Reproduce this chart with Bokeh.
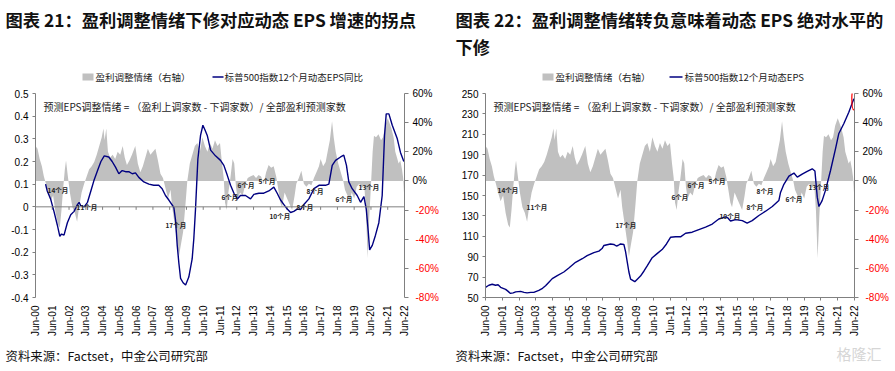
from math import pi
from bokeh.plotting import figure
from bokeh.models import (Range1d, LinearAxis, FixedTicker, Label, ColumnDataSource, Span)
from bokeh.layouts import row, column
from bokeh.embed import file_html
from bokeh.resources import INLINE
from bokeh.core.properties import value

# ---------------- data ----------------
# earnings revision sentiment (%; right axis), shared by both panels
sent_t = [2000.50, 2000.62, 2000.75, 2000.88, 2001.00, 2001.12, 2001.25, 2001.40, 2001.55, 2001.70,
          2001.85, 2001.95, 2002.05, 2002.15, 2002.25, 2002.32, 2002.42, 2002.55, 2002.70, 2002.85,
          2002.98, 2003.10, 2003.25, 2003.40, 2003.55, 2003.70, 2003.85, 2004.00, 2004.15, 2004.30,
          2004.45, 2004.55, 2004.62, 2004.72, 2004.82, 2004.95, 2005.10, 2005.25, 2005.40, 2005.55,
          2005.70, 2005.82, 2005.95, 2006.10, 2006.25, 2006.45, 2006.60, 2006.75, 2006.90, 2007.05,
          2007.20, 2007.35, 2007.50, 2007.65, 2007.80, 2007.95, 2008.10, 2008.25, 2008.40, 2008.55,
          2008.65, 2008.80, 2008.95, 2009.05, 2009.15, 2009.30, 2009.45, 2009.55, 2009.70, 2009.85,
          2010.00, 2010.15, 2010.30, 2010.45, 2010.60, 2010.75, 2010.90, 2011.05, 2011.20, 2011.35,
          2011.50, 2011.62, 2011.72, 2011.80, 2011.90, 2012.00, 2012.12, 2012.25, 2012.35, 2012.45,
          2012.55, 2012.70, 2012.85, 2013.00, 2013.15, 2013.30, 2013.50, 2013.65, 2013.80, 2013.95,
          2014.10, 2014.25, 2014.40, 2014.55, 2014.70, 2014.85, 2014.95, 2015.10, 2015.20, 2015.35,
          2015.50, 2015.65, 2015.80, 2015.95, 2016.05, 2016.20, 2016.35, 2016.50, 2016.65, 2016.80,
          2016.95, 2017.10, 2017.25, 2017.40, 2017.50, 2017.65, 2017.80, 2017.95, 2018.05, 2018.18,
          2018.28, 2018.40, 2018.55, 2018.70, 2018.85, 2018.95, 2019.10, 2019.22, 2019.35, 2019.50,
          2019.65, 2019.80, 2019.95, 2020.10, 2020.20, 2020.30, 2020.40, 2020.50, 2020.60, 2020.68,
          2020.80, 2020.95, 2021.10, 2021.22, 2021.35, 2021.50, 2021.60, 2021.72, 2021.85, 2021.95,
          2022.05, 2022.15, 2022.25, 2022.35, 2022.42, 2022.48]
sent_v = [24, 22, 15, 10, 3, -2, -8, -14, -10, -22,
          -30, -32, -20, -5, 8, 14, 4, -8, -18, -22,
          -28, -18, -8, -2, 3, 8, 10, 13, 18, 24,
          30, 36, 28, 36, 20, 16, 18, 15, 20, 18,
          24, 16, 11, 14, 18, 24, 12, 6, 10, 16,
          22, 18, 20, 22, 14, 5, 2, -5, -12, -6,
          -18, -30, -42, -52, -45, -35, -15, 0, 12, 18,
          24, 26, 20, 30, 24, 20, 26, 22, 28, 24,
          26, 12, 2, -15, -20, -8, 2, 15, 12, -4,
          -12, -8, -10, -3, 2, 3, 4, 2, 4, 3,
          -2, 6, 11, 9, 10, 3, -4, -15, -18, -8,
          -12, -16, -20, -10, -2, 2, 7, -2, -4, -2,
          -3, 2, 6, 10, 15, 10, 13, 22, 28, 41,
          30, 20, 12, 6, 0, -6, -10, -14, -8, -12,
          -4, -2, -5, -3, -20, -53, -25, -3, 20, 31,
          30, 32, 28, 30, 38, 43, 40, 36, 30, 20,
          16, 12, 14, 8, 2, -10]

# S&P 500 12m forward EPS, YoY (left axis, left panel)
yoy_t = [2001.10, 2001.20, 2001.40, 2001.60, 2001.80, 2001.95, 2002.05, 2002.20, 2002.40, 2002.60,
         2002.80, 2003.00, 2003.10, 2003.20, 2003.40, 2003.60, 2003.80, 2004.00, 2004.20, 2004.40,
         2004.60, 2004.87, 2005.07, 2005.27, 2005.47, 2005.67, 2005.87, 2006.06, 2006.27, 2006.46,
         2006.66, 2006.96, 2007.26, 2007.55, 2007.85, 2008.05, 2008.25, 2008.45, 2008.75, 2008.85,
         2008.95, 2009.05, 2009.15, 2009.30, 2009.45, 2009.64, 2009.84, 2009.94, 2010.04, 2010.18,
         2010.34, 2010.48, 2010.60, 2010.74, 2010.94, 2011.23, 2011.53, 2011.73, 2011.93, 2012.13,
         2012.33, 2012.53, 2012.72, 2013.02, 2013.32, 2013.52, 2013.82, 2014.11, 2014.41, 2014.71,
         2014.91, 2015.11, 2015.31, 2015.51, 2015.71, 2015.90, 2016.10, 2016.30, 2016.50, 2016.80,
         2017.10, 2017.40, 2017.79, 2017.99, 2018.19, 2018.39, 2018.69, 2018.88, 2019.04, 2019.18,
         2019.38, 2019.68, 2019.88, 2020.08, 2020.22, 2020.34, 2020.42, 2020.58, 2020.77, 2020.97,
         2021.17, 2021.31, 2021.41, 2021.57, 2021.77, 2022.07, 2022.26, 2022.46]
yoy_v = [0.10, 0.07, 0.035, -0.02, -0.08, -0.13, -0.12, -0.125, -0.07, -0.035,
         -0.02, 0.01, 0.02, 0.005, 0.0, 0.02, 0.07, 0.12, 0.16, 0.20,
         0.225, 0.22, 0.20, 0.175, 0.146, 0.16, 0.155, 0.155, 0.146, 0.15,
         0.13, 0.11, 0.10, 0.095, 0.095, 0.08, 0.05, 0.03, -0.003, -0.06,
         -0.17, -0.25, -0.316, -0.335, -0.345, -0.31, -0.23, -0.14, -0.01, 0.21,
         0.315, 0.36, 0.34, 0.315, 0.25, 0.225, 0.205, 0.183, 0.14, 0.095,
         0.06, 0.035, 0.05, 0.05, 0.035, 0.055, 0.06, 0.06, 0.07, 0.087,
         0.06, 0.03, 0.01, -0.01, -0.025, -0.02, -0.01, -0.012, 0.01, 0.035,
         0.08, 0.095, 0.095, 0.10, 0.183, 0.205, 0.22, 0.228, 0.183, 0.11,
         0.08, 0.05, 0.02, 0.045, -0.01, -0.11, -0.19, -0.17, -0.125, -0.07,
         0.05, 0.315, 0.41, 0.41, 0.36, 0.30, 0.24, 0.20]

# S&P 500 12m forward EPS level (left axis, right panel)
eps_t = [2000.50, 2000.70, 2000.90, 2001.10, 2001.25, 2001.40, 2001.70, 2001.85, 2001.99, 2002.15,
         2002.30, 2002.59, 2002.80, 2002.98, 2003.20, 2003.38, 2003.68, 2003.90, 2004.08, 2004.28,
         2004.48, 2004.78, 2005.17, 2005.47, 2005.87, 2006.27, 2006.56, 2006.96, 2007.26, 2007.45,
         2007.56, 2007.95, 2008.15, 2008.30, 2008.40, 2008.55, 2008.75, 2008.85, 2008.95, 2009.05,
         2009.15, 2009.40, 2009.55, 2009.74, 2009.95, 2010.14, 2010.44, 2010.73, 2011.03, 2011.29,
         2011.53, 2011.83, 2012.13, 2012.43, 2012.82, 2013.22, 2013.62, 2014.02, 2014.41, 2014.81,
         2014.95, 2015.11, 2015.41, 2015.81, 2016.10, 2016.40, 2016.80, 2017.20, 2017.60, 2017.99,
         2018.09, 2018.29, 2018.59, 2018.89, 2019.09, 2019.38, 2019.68, 2019.98, 2020.14, 2020.28,
         2020.38, 2020.57, 2020.77, 2021.07, 2021.37, 2021.56, 2021.86, 2022.16, 2022.46]
eps_v = [60, 62, 63, 62, 62.5, 60, 58, 56, 54, 54.5,
         55.5, 56, 55, 54.5, 55, 55, 57, 59, 61.5, 65,
         68.5, 71.5, 75, 79, 84.5, 88, 91, 94, 95.5, 98,
         101, 102.5, 102, 100.5, 101, 102.5, 102, 95, 85, 75,
         68, 65.5, 68, 71, 76, 81, 89, 93, 97, 102.5,
         109, 109.5, 109.5, 113, 114, 116.5, 119, 122, 127, 129,
         128, 125, 126.3, 125.4, 123, 125.4, 130.4, 134.6, 139.2, 145,
         153, 161, 169, 172, 168, 171, 173.7, 176.2, 174, 148.4,
         139.2, 145, 155, 174.5, 196, 210.5, 220.3, 231.7, 244.8]

x_ticks = [2000.5 + i for i in range(23)]
x_labels = ["Jun-00", "Jun-01", "Jun-02", "Jun-03", "Jun-04", "Jun-05", "Jun-06", "Jun-07",
            "Jun-08", "Jun-09", "Jun-10", "Jun-11", "Jun-12", "Jun-13", "Jun-14", "Jun-15",
            "Jun-16", "Jun-17", "Jun-18", "Jun-19", "Jun-20", "Jun-21", "Jun-22"]
yoy_ticks = [-0.4, -0.3, -0.2, -0.1, 0, 0.1, 0.2, 0.3, 0.4, 0.5]
yoy_labels = ["-0.4", "-0.3", "-0.2", "-0.1", "0", "0.1", "0.2", "0.3", "0.4", "0.5"]
eps_ticks = [50, 70, 90, 110, 130, 150, 170, 190, 210, 230, 250]
pct_ticks = [-80, -60, -40, -20, 0, 20, 40, 60]
pct_labels = ["-80%", "-60%", "-40%", "-20%", "0%", "20%", "40%", "60%"]

# month-count annotations (text, x in years, y on right axis %)
ann_text = ["14个月", "11个月", "17个月", "6个月", "6个月", "5个月", "10个月", "8个月", "8个月", "6个月", "13个月"]
ann_x = [2001.22, 2002.95, 2008.25, 2011.59, 2012.55, 2013.80, 2014.45, 2016.06, 2016.66, 2018.39, 2019.76]
ann_y = [-6, -18, -30, -10.7, -3, 0, -24.4, -18, -6.6, -12.6, -4.5]

title_left = "图表 21：盈利调整情绪下修对应动态 EPS 增速的拐点"
title_right_1 = "图表 22：盈利调整情绪转负意味着动态 EPS 绝对水平的"
title_right_2 = "下修"
legend_area = "盈利调整情绪（右轴）"
legend_line_left = "标普500指数12个月动态EPS同比"
legend_line_right = "标普500指数12个月动态EPS"
formula = "预测EPS调整情绪 = （盈利上调家数 - 下调家数）/ 全部盈利预测家数"
source_txt = "资料来源：Factset，中金公司研究部"
watermark = "格隆汇"

# ---------------- styling ----------------
CJK = "Noto Sans CJK SC"
LAT = "Liberation Sans"
GRAY_AX = "#808080"
AREA = "#c0c0c0"
NAVY = "#000080"
FW, FH = 369, 204
W1, W2 = 448, 439
HDR_H, FTR_H = 85, 30


def style_axis(ax, tick_out):
    ax.axis_line_color = GRAY_AX
    ax.major_tick_line_color = GRAY_AX
    ax.major_tick_out = tick_out
    ax.major_tick_in = 0
    ax.minor_tick_out = 0
    ax.minor_tick_in = 0
    ax.minor_tick_line_color = None
    ax.major_label_text_font = LAT
    ax.major_label_text_font_size = "10px"
    ax.major_label_text_color = "#000000"


def base_fig(yr, bl, br):
    p = figure(frame_width=FW, frame_height=FH, x_range=Range1d(2000.5, 2022.5), y_range=yr,
               output_backend="svg", toolbar_location=None,
               min_border_left=bl, min_border_right=br, min_border_top=8, min_border_bottom=42)
    p.outline_line_color = None
    p.grid.visible = False
    p.extra_y_ranges = {"pct": Range1d(-80, 60)}
    xa = p.xaxis[0]
    style_axis(xa, 3)
    xa.ticker = FixedTicker(ticks=x_ticks)
    xa.major_label_overrides = {t: l for t, l in zip(x_ticks, x_labels)}
    xa.major_label_orientation = pi / 2
    xa.major_label_standoff = 5
    ya = p.yaxis[0]
    style_axis(ya, 3)
    ya.major_label_standoff = 4
    # right axis: line, all ticks, black labels for the non-negative values
    ra = LinearAxis(y_range_name="pct", ticker=FixedTicker(ticks=pct_ticks))
    ra.major_label_overrides = {t: (l if t >= 0 else "") for t, l in zip(pct_ticks, pct_labels)}
    style_axis(ra, 4)
    ra.major_label_standoff = 4
    p.add_layout(ra, "right")
    # second right axis: red labels for the negative values, pulled back onto the first one
    neg = [t for t in pct_ticks if t < 0]
    rn = LinearAxis(y_range_name="pct", ticker=FixedTicker(ticks=neg))
    rn.major_label_overrides = {t: l for t, l in zip(pct_ticks, pct_labels) if t < 0}
    style_axis(rn, 0)
    rn.axis_line_color = None
    rn.major_tick_line_color = None
    rn.major_label_standoff = -20
    rn.major_label_text_color = "#ff0000"
    p.add_layout(rn, "right")
    return p


def add_inner_texts(p):
    p.add_layout(Label(x=8, y=FH - 13, x_units="screen", y_units="screen", text=formula,
                       text_font=CJK, text_font_size="10px", text_color="#222222",
                       text_align="left", text_baseline="middle"))
    for t, x, y in zip(ann_text, ann_x, ann_y):
        p.add_layout(Label(x=x, y=y, y_range_name="pct", text=t, text_font=CJK,
                           text_font_size="6.5px", text_font_style="bold", text_color="#222222",
                           text_align="left", text_baseline="middle"))


# ---------------- left panel ----------------
p1 = base_fig(Range1d(-0.4, 0.5), 35, 44)
p1.yaxis[0].ticker = FixedTicker(ticks=yoy_ticks)
p1.yaxis[0].major_label_overrides = {t: l for t, l in zip(yoy_ticks, yoy_labels)}
p1.xaxis[0].axis_line_color = None
p1.xaxis[0].major_tick_line_color = None
s_area = ColumnDataSource(dict(t=sent_t, v=sent_v, z=[0] * len(sent_t)))
a1 = p1.varea(x="t", y1="z", y2="v", source=s_area, y_range_name="pct", fill_color=AREA)
# category axis line crossing at zero, with short downward ticks
p1.add_layout(Span(location=0, dimension="width", line_color=GRAY_AX, line_width=1))
tick_len = 3 * (0.5 - (-0.4)) / FH
p1.segment(x0=x_ticks, y0=[0] * len(x_ticks), x1=x_ticks, y1=[-tick_len] * len(x_ticks),
           line_color=GRAY_AX, line_width=1)
l1 = p1.line(yoy_t, yoy_v, line_color=NAVY, line_width=1.4)
add_inner_texts(p1)

# ---------------- right panel ----------------
p2 = base_fig(Range1d(50, 250), 37, 33)
p2.yaxis[0].ticker = FixedTicker(ticks=eps_ticks)
s_area2 = ColumnDataSource(dict(t=sent_t, v=sent_v, z=[0] * len(sent_t)))
a2 = p2.varea(x="t", y1="z", y2="v", source=s_area2, y_range_name="pct", fill_color=AREA)
l2 = p2.line(eps_t, eps_v, line_color=NAVY, line_width=1.4)
p2.ellipse(x=[eps_t[-1]], y=[eps_v[-1]], width=4, height=22, width_units="screen",
           height_units="screen", fill_color=None, line_color="#ff0000", line_width=1.2)
add_inner_texts(p2)


# ---------------- header (titles + legends) ----------------
def blank_fig(w, h):
    f = figure(width=w, height=h, x_range=Range1d(0, w), y_range=Range1d(h, 0),
               output_backend="svg", toolbar_location=None, min_border=0,
               min_border_left=0, min_border_right=0, min_border_top=0, min_border_bottom=0,
               x_axis_location=None, y_axis_location=None)
    f.outline_line_color = None
    f.grid.visible = False
    return f


hdr = blank_fig(W1 + W2, HDR_H)
hdr.text(x=[5, 455, 455], y=[19, 19, 46], text=[title_left, title_right_1, title_right_2],
         text_font=value(CJK), text_font_size=value("17.3px"), text_font_style="bold",
         text_color="#111111", text_align="left", text_baseline="middle")
# legend swatches
hdr.quad(left=[82, 542], right=[93, 553], top=[73, 73], bottom=[80, 80],
         fill_color=AREA, line_color=None)
hdr.segment(x0=[212, 669], y0=[76.5, 76.5], x1=[223, 682], y1=[76.5, 76.5],
            line_color=NAVY, line_width=1.4)
hdr.text(x=[95, 224, 555, 684], y=[76.5] * 4,
         text=[legend_area, legend_line_left, legend_area, legend_line_right],
         text_font=value(CJK), text_font_size=value("9.5px"), text_color="#222222",
         text_align="left", text_baseline="middle")

# ---------------- footer (sources + watermark) ----------------
ftr = blank_fig(W1 + W2, FTR_H)
ftr.text(x=[5, 455], y=[16, 16], text=[source_txt, source_txt],
         text_font=value(CJK), text_font_size=value("12.4px"), text_color="#111111",
         text_align="left", text_baseline="middle")
ftr.text(x=[836], y=[14], text=[watermark], text_font=value(CJK), text_font_size=value("15px"),
         text_color="#d6d6d6", text_align="left", text_baseline="middle")

layout = column(hdr, row(p1, p2), ftr)
open("out.html", "w").write(file_html(layout, INLINE))
